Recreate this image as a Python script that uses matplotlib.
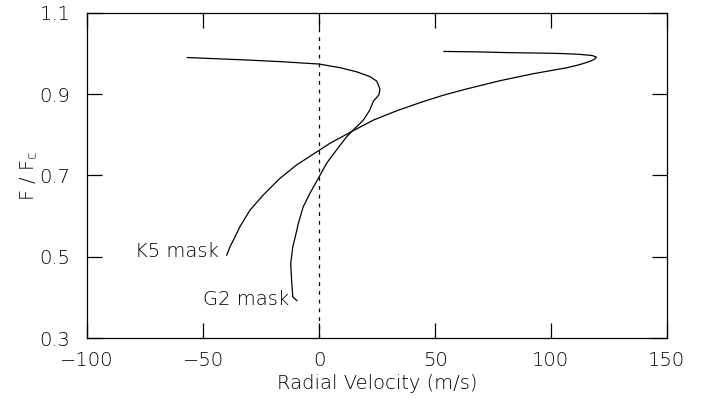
import numpy as np
import matplotlib
matplotlib.use("Agg")
import matplotlib.pyplot as plt

plt.rcParams['font.family'] = ['DejaVu Sans']
plt.rcParams['mathtext.default'] = 'regular'

# bisector of the G2 mask CCF (velocity in m/s, flux relative to continuum)
g2_rv = [-9.5, -11.3, -11.8, -12.2, -11.3, -9.9, -8.9, -6.8, -3.9, 0.1,
         3.3, 7.6, 11.9, 14.8, 19.1, 21.8, 23.4, 25.8, 26.3, 24.9,
         22.0, 16.2, 9.1, 0.1, -16.8, -31.2, -56.8]
g2_flux = [0.392, 0.401, 0.442, 0.483, 0.524, 0.557, 0.582, 0.623, 0.656, 0.697,
           0.730, 0.763, 0.795, 0.812, 0.836, 0.860, 0.882, 0.898, 0.912, 0.932,
           0.943, 0.955, 0.965, 0.974, 0.980, 0.984, 0.990]

# bisector of the K5 mask CCF
k5_rv = [-39.8, -38.4, -36.2, -34.1, -29.7, -24.0, -16.8, -9.6, 0.4, 4.7,
         14.1, 23.4, 33.5, 43.5, 53.4, 63.8, 78.0, 92.2, 106.9, 112.0,
         116.0, 118.6, 119.6, 117.8, 112.0, 104.0, 95.3, 82.3, 68.0, 53.9]
k5_flux = [0.504, 0.524, 0.549, 0.574, 0.615, 0.652, 0.693, 0.726, 0.763, 0.779,
           0.808, 0.836, 0.859, 0.879, 0.897, 0.913, 0.933, 0.950, 0.965, 0.972,
           0.979, 0.985, 0.991, 0.995, 0.998, 1.000, 1.001, 1.002, 1.004, 1.005]

fs = 14
fw = 'light'
fig = plt.figure(figsize=(7.02, 4.01), dpi=100)
ax = fig.add_axes([0.124, 0.157, 0.826, 0.811])

ax.plot(g2_rv, g2_flux, color='black', lw=0.9)
ax.plot(k5_rv, k5_flux, color='black', lw=0.9)
ax.axvline(0, color='black', lw=0.9, ls=(0, (3, 4)))

ax.text(-79.5, 0.512, 'K5 mask', fontsize=fs, fontweight=fw, va='center', ha='left')
ax.text(-50.0, 0.396, 'G2 mask', fontsize=fs, fontweight=fw, va='center', ha='left')

ax.set_xlim(-100, 150)
ax.set_ylim(0.3, 1.1)
ax.set_xticks([-100, -50, 0, 50, 100, 150])
ax.set_xticklabels(['\u2212100', '\u221250', '0', '50', '100', '150'])
ax.set_yticks([0.3, 0.5, 0.7, 0.9, 1.1])
ax.tick_params(direction='in', length=11, width=0.9, top=True, right=True,
               labelsize=fs)
ax.tick_params(axis='x', pad=9)
ax.tick_params(axis='y', pad=12)
for lab in ax.get_xticklabels() + ax.get_yticklabels():
    lab.set_fontweight(fw)
for s in ax.spines.values():
    s.set_linewidth(0.9)

ax.set_xlabel('Radial Velocity (m/s)', fontsize=fs, fontweight=fw, labelpad=3)
ax.set_ylabel('F / F$_{c}$', fontsize=fs, fontweight=fw, labelpad=0)

fig.savefig('out.png', dpi=100)
